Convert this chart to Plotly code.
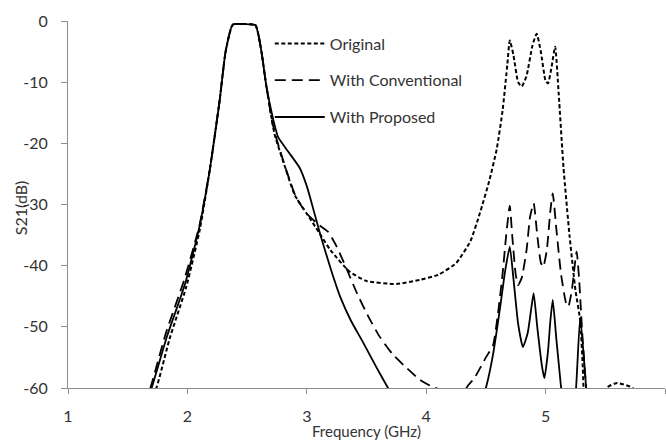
import plotly.graph_objects as go

# ---- data ----
orig_f = [1.60, 1.74, 1.85, 1.99, 2.105, 2.19, 2.27, 2.32, 2.38, 2.47, 2.57, 2.62, 2.66, 2.73, 2.82,
          2.90, 3.00, 3.10, 3.20, 3.36, 3.50, 3.75, 3.95, 4.10, 4.25, 4.37, 4.45, 4.53, 4.59, 4.64,
          4.68, 4.70, 4.73, 4.77, 4.80, 4.84, 4.89, 4.925, 4.96, 5.00, 5.02, 5.05, 5.08, 5.11, 5.15,
          5.20, 5.25, 5.29, 5.31, 5.33, 5.42, 5.51, 5.60, 5.73, 5.80]
orig_db = [-66, -60, -52, -43.5, -34, -24, -13, -5, -0.6, -0.5, -0.7, -5, -10.5, -18.5, -24,
           -28.5, -31.5, -34.5, -37.5, -41, -42.5, -43, -42.3, -41.5, -39.6, -36, -31.4, -26, -21, -14.6,
           -7, -3.2, -5.5, -10, -10.7, -9, -4, -2.1, -5, -9.8, -10.2, -7.5, -4.2, -12, -24,
           -35, -44, -49, -56, -64, -72, -60, -59.2, -60, -63]

conv_f = [1.55, 1.69, 1.82, 1.97, 2.10, 2.19, 2.27, 2.32, 2.38, 2.47, 2.57, 2.62, 2.66, 2.71, 2.75,
          2.83, 2.91, 3.00, 3.10, 3.18, 3.24, 3.30, 3.42, 3.52, 3.61, 3.72, 3.84, 3.95, 4.05, 4.12,
          4.20, 4.30, 4.35, 4.40, 4.45, 4.50, 4.56, 4.60, 4.64, 4.67, 4.70, 4.72, 4.75, 4.77, 4.80,
          4.84, 4.87, 4.90, 4.93, 4.96, 4.98, 5.01, 5.04, 5.06, 5.09, 5.13, 5.17, 5.19, 5.22, 5.26,
          5.28, 5.31, 5.34, 5.37]
conv_db = [-68, -60, -51, -42.5, -33.5, -24, -13, -5, -0.6, -0.5, -0.7, -5, -10.5, -16.5, -19.5,
           -24.5, -28.8, -31.5, -33.3, -34.5, -36.5, -39, -44.5, -48.5, -51.6, -54.5, -56.8, -58.7, -59.8, -60.3,
           -61, -61, -59.6, -58.5, -56.8, -55, -53, -48, -41.3, -35, -30.2, -35, -41.5, -43.2, -42,
           -37.5, -32, -29.8, -35, -39.5, -40.2, -37.5, -31, -28.2, -34, -41.5, -46, -46.7, -44, -37.7,
           -42, -52, -60, -66]

prop_f = [1.55, 1.70, 1.83, 1.98, 2.10, 2.19, 2.27, 2.32, 2.38, 2.47, 2.57, 2.62, 2.66, 2.72, 2.76,
          2.85, 2.94, 3.00, 3.03, 3.11, 3.20, 3.28, 3.37, 3.47, 3.58, 3.68, 3.75, 4.10, 4.40, 4.50,
          4.56, 4.62, 4.66, 4.70, 4.73, 4.77, 4.81, 4.85, 4.88, 4.90, 4.93, 4.97, 4.99, 5.02, 5.04,
          5.06, 5.09, 5.13, 5.16, 5.22, 5.255, 5.29, 5.34, 5.37]
prop_db = [-68, -60, -51.5, -43, -33.7, -24, -13, -5, -0.6, -0.5, -0.7, -5, -10.5, -16.2, -19,
           -21.5, -24, -27, -29, -34.7, -40.5, -45.1, -49, -52.5, -56.5, -60, -62.5, -75, -66, -60,
           -54.5, -46.7, -41, -36.9, -42, -49.5, -53.3, -51, -47, -44.5, -50, -56.5, -58.4, -54, -49,
           -45.6, -52, -60, -66, -66, -60, -48.4, -60, -66]

series_names = ["Original", "With Conventional", "With Proposed"]
x_ticks = [1, 2, 3, 4, 5, 6]
y_ticks = [0, -10, -20, -30, -40, -50, -60]
y_ticktext = ["0", "-10", "-20", "-30", "-40", "-50", "-60"]
x_title = "Frequency (GHz)"
y_title = "S21(dB)"

FONT = "Lato"
FS = 16
TXT = "#333333"

fig = go.Figure()
styles = [dict(dash="4px,2.5px", width=2), dict(dash="11px,6px", width=1.8), dict(dash="solid", width=1.8)]
for name, xs, ys, st, g in zip(series_names, [orig_f, conv_f, prop_f], [orig_db, conv_db, prop_db], styles, ["a", "b", "c"]):
    fig.add_trace(go.Scatter(x=xs, y=ys, mode="lines", name=name, legendgroup=g,
                             line=dict(color="black", width=st["width"], dash=st["dash"], shape="spline", smoothing=0.5)))

fig.update_layout(
    width=666, height=441,
    margin=dict(l=68, r=1, t=21, b=53),
    paper_bgcolor="white", plot_bgcolor="white",
    font=dict(family=FONT, size=FS, color=TXT),
    showlegend=True,
    legend=dict(x=0.338, y=0.985, xanchor="left", yanchor="top", bgcolor="rgba(0,0,0,0)",
                itemwidth=50, tracegroupgap=13, font=dict(family=FONT, size=FS, color=TXT)),
    annotations=[
        dict(text=x_title, xref="paper", yref="paper", x=0.5, y=-0.117, xanchor="center", yanchor="middle",
             showarrow=False, font=dict(family=FONT, size=15, color=TXT)),
        dict(text=y_title, xref="paper", yref="paper", x=-0.0804, y=0.49, xanchor="center", yanchor="middle",
             textangle=-90, showarrow=False, font=dict(family=FONT, size=FS, color=TXT)),
    ],
)
fig.update_xaxes(range=[1, 6], tickvals=x_ticks, showgrid=False, zeroline=False,
                 showline=True, linecolor="#8c8c8c", linewidth=1,
                 ticks="outside", ticklen=5, tickcolor="#8c8c8c",
                 ticklabelstandoff=9)
fig.update_yaxes(range=[-60, 0], tickvals=y_ticks, ticktext=y_ticktext, showgrid=False, zeroline=False,
                 showline=True, linecolor="#8c8c8c", linewidth=1,
                 ticks="outside", ticklen=6, tickcolor="#8c8c8c",
                 ticklabelstandoff=10)

fig.write_html("out.html")
